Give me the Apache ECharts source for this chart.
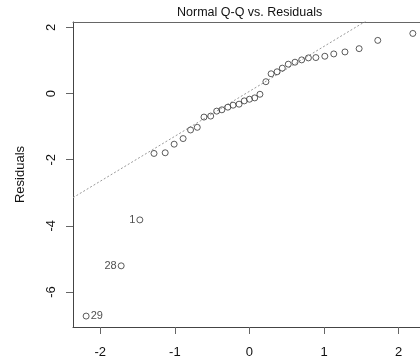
<!DOCTYPE html>
<html>
<head>
<meta charset="utf-8">
<script src="https://cdn.jsdelivr.net/npm/echarts@6/dist/echarts.min.js"></script>
<style>
html,body{margin:0;padding:0;background:#fff;}
#chart{width:420px;height:363px;}
</style>
</head>
<body>
<div id="chart"></div>
<script>
// Theoretical normal quantiles (x)
var theoQuantiles = [-2.19,-1.72,-1.47,-1.28,-1.13,-1.01,-0.89,-0.79,-0.70,-0.61,-0.52,-0.44,-0.37,-0.29,-0.22,-0.14,-0.07,0.00,0.07,0.14,0.22,0.29,0.37,0.44,0.52,0.61,0.70,0.79,0.89,1.01,1.13,1.28,1.47,1.72,2.19];
// Sorted residuals (y)
var residuals = [-6.73,-5.21,-3.82,-1.81,-1.79,-1.53,-1.36,-1.10,-1.02,-0.71,-0.68,-0.53,-0.49,-0.41,-0.35,-0.32,-0.22,-0.17,-0.13,-0.02,0.36,0.60,0.66,0.77,0.89,0.95,1.02,1.08,1.09,1.13,1.20,1.26,1.36,1.61,1.82];
// Observation ids labelled on the plot
var pointIds = ["29","28","1"];
var pointIdSide = ["right","left","left"];
// Reference (qq) line
var qqIntercept = 0.07;
var qqSlope = 1.36;
// Tick labels
var xTicks = [-2,-1,0,1,2];
var yTicks = [-6,-4,-2,0,2];

var xMin = -2.366, xMax = 2.286, yMin = -7.06, yMax = 2.166;

var pts = theoQuantiles.map(function(x,i){
  var item = {value:[x, residuals[i]]};
  if (i < pointIds.length) {
    item.label = {show:true, formatter: pointIds[i], position: pointIdSide[i]};
  }
  return item;
});
var lineData = [[xMin, qqIntercept + qqSlope*xMin],[xMax, qqIntercept + qqSlope*xMax]];

var font = 'Liberation Sans, Arial, sans-serif';
var chart = echarts.init(document.getElementById('chart'), null, {renderer:'canvas'});
chart.setOption({
  animation:false,
  backgroundColor:'#fff',
  title:{text:'Normal Q-Q vs. Residuals', left:172, top:1,
    textStyle:{fontFamily:font, fontSize:12.5, fontWeight:'normal', color:'#111'}},
  grid:{left:73, right:0, top:22, bottom:36, containLabel:false},
  xAxis:[{
    type:'value', min:xMin, max:xMax, position:'bottom',
    axisLine:{show:true, onZero:false, lineStyle:{color:'#444', width:1}},
    axisTick:{show:true, length:7, customValues:xTicks, lineStyle:{color:'#666'}},
    axisLabel:{show:true, customValues:xTicks, margin:19, fontFamily:font, fontSize:13, color:'#111'},
    splitLine:{show:false}
  },{
    type:'value', min:xMin, max:xMax, position:'top',
    axisLine:{show:true, onZero:false, lineStyle:{color:'#666', width:1}},
    axisTick:{show:false}, axisLabel:{show:false}, splitLine:{show:false}
  }],
  yAxis:{
    type:'value', min:yMin, max:yMax,
    name:'Residuals', nameLocation:'middle', nameGap:46, nameRotate:90,
    nameTextStyle:{fontFamily:font, fontSize:13, color:'#111'},
    axisLine:{show:true, onZero:false, lineStyle:{color:'#444', width:1}},
    axisTick:{show:true, length:7, customValues:yTicks, lineStyle:{color:'#666'}},
    axisLabel:{show:true, customValues:yTicks, rotate:90, margin:15, fontFamily:font, fontSize:13, color:'#111'},
    splitLine:{show:false}
  },
  series:[{
    type:'line', data:lineData, showSymbol:false, symbol:'none', clip:true,
    lineStyle:{color:'#999', width:1, type:[2,2]}, silent:true, z:1
  },{
    type:'scatter', data:pts, symbol:'circle', symbolSize:6,
    itemStyle:{color:'rgba(0,0,0,0)', borderColor:'#333', borderWidth:1},
    label:{show:false, fontFamily:font, fontSize:11, color:'#222', distance:1},
    z:2
  }]
});
</script>
</body>
</html>
